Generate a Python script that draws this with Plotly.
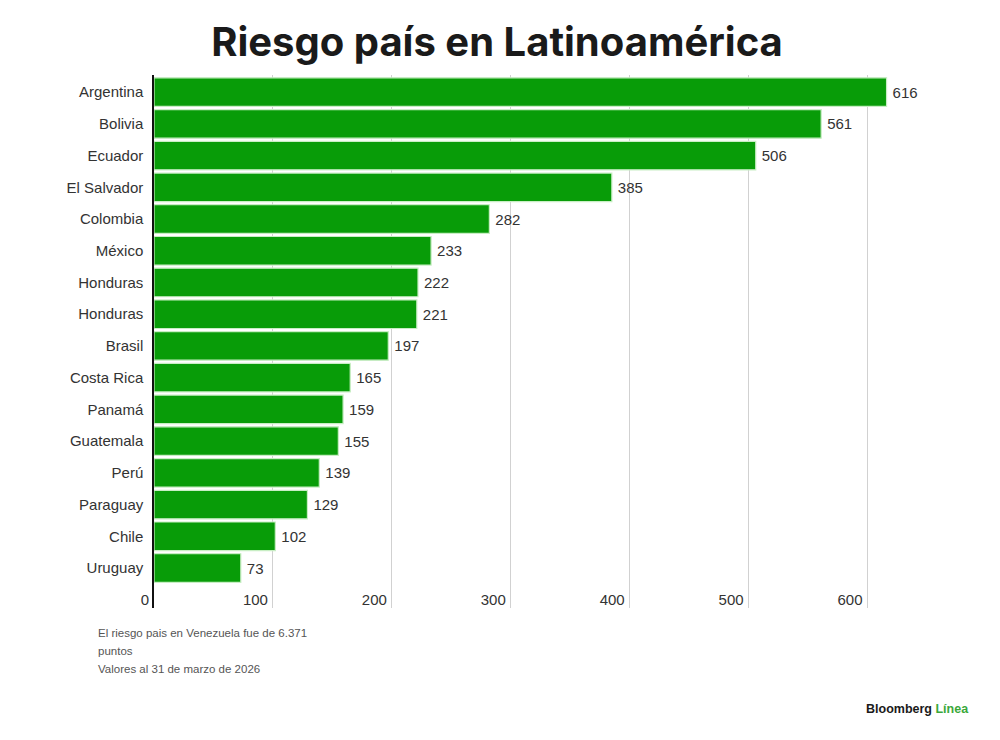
import plotly.graph_objects as go

# datos: riesgo país (puntos básicos), 31 de marzo de 2026
paises = ["Argentina", "Bolivia", "Ecuador", "El Salvador", "Colombia", "México",
          "Honduras", "Honduras", "Brasil", "Costa Rica", "Panamá", "Guatemala",
          "Perú", "Paraguay", "Chile", "Uruguay"]
valores = [616, 561, 506, 385, 282, 233, 222, 221, 197, 165, 159, 155, 139, 129, 102, 73]
ticks_x = [0, 100, 200, 300, 400, 500, 600]
notas = ["El riesgo pais en Venezuela fue de 6.371", "puntos", "Valores al 31 de marzo de 2026"]

posiciones = list(range(len(paises)))

verde = "#089c08"
texto = "#333333"
fuente = "Liberation Sans"

# la página tiene 8px de margen; coordenadas en pantalla -> figura
OFF = 8
izq, der, arr, aba = 154 - OFF, 927 - OFF, 75 - OFF, 608 - OFF
w_paper = der - izq
h_paper = aba - arr


def px_x(p):
    return (p - OFF - izq) / w_paper


def px_y(p):
    return (aba - (p - OFF)) / h_paper


fig = go.Figure()
fig.add_trace(go.Bar(
    x=valores,
    y=posiciones,
    orientation="h",
    marker=dict(color=verde, line=dict(color="#c8eec4", width=1.2)),
    text=["\u2009" + str(v) for v in valores],
    textposition="outside",
    textfont=dict(family=fuente, size=15, color=texto),
    cliponaxis=False,
    width=0.9,
))

fig.update_layout(
    width=1000,
    height=740,
    margin=dict(l=izq, r=1000 - der, t=arr, b=740 - aba),
    paper_bgcolor="white",
    plot_bgcolor="white",
    showlegend=False,
    title=dict(
        text="<b>Riesgo país en Latinoamérica</b>",
        x=(497 - OFF) / 1000, xref="container", xanchor="center",
        y=1 - (42 - OFF) / 740, yref="container", yanchor="middle",
        font=dict(family="Inter", size=40, color="#1a1a1a"),
    ),
    xaxis=dict(
        range=[0, 650],
        tickvals=ticks_x,
        showticklabels=False,
        showgrid=True,
        gridcolor="rgba(190,190,190,0.7)",
        gridwidth=1,
        zeroline=False,
        showline=False,
        layer="above traces",
    ),
    xaxis2=dict(
        range=[0, 650],
        overlaying="x",
        anchor="free",
        position=px_y(589),
        side="bottom",
        tickvals=ticks_x,
        ticktext=[str(t) for t in ticks_x],
        ticklabelposition="outside left",
        ticklabelshift=-5,
        tickfont=dict(family=fuente, size=15, color=texto),
        showgrid=False,
        zeroline=False,
        showline=False,
        ticks="",
    ),
    yaxis=dict(
        range=[16.26, -0.54],
        tickvals=posiciones,
        ticktext=paises,
        tickfont=dict(family=fuente, size=15, color=texto),
        ticklabelstandoff=6,
        showgrid=False,
        zeroline=False,
        showline=True,
        linecolor="#111111",
        linewidth=1.5,
    ),
)

# traza invisible para que se dibuje el eje x2
fig.add_trace(go.Scatter(x=[0], y=[0], xaxis="x2", mode="markers",
                         marker=dict(opacity=0), hoverinfo="skip"))

for i, linea in enumerate(notas):
    fig.add_annotation(
        text=linea,
        xref="paper", yref="paper",
        x=px_x(96), y=px_y(633 + 18 * i),
        xanchor="left", yanchor="middle", align="left",
        showarrow=False,
        font=dict(family=fuente, size=11.5, color="#555555"),
    )

fig.add_annotation(
    text="<b>Bloomberg</b> <span style='color:#3aa83a'><b>Línea</b></span>",
    xref="paper", yref="paper",
    x=px_x(971), y=px_y(709),
    xanchor="right", yanchor="middle",
    showarrow=False,
    font=dict(family=fuente, size=12.5, color="#1a1a1a"),
)

fig.write_html("out.html")
